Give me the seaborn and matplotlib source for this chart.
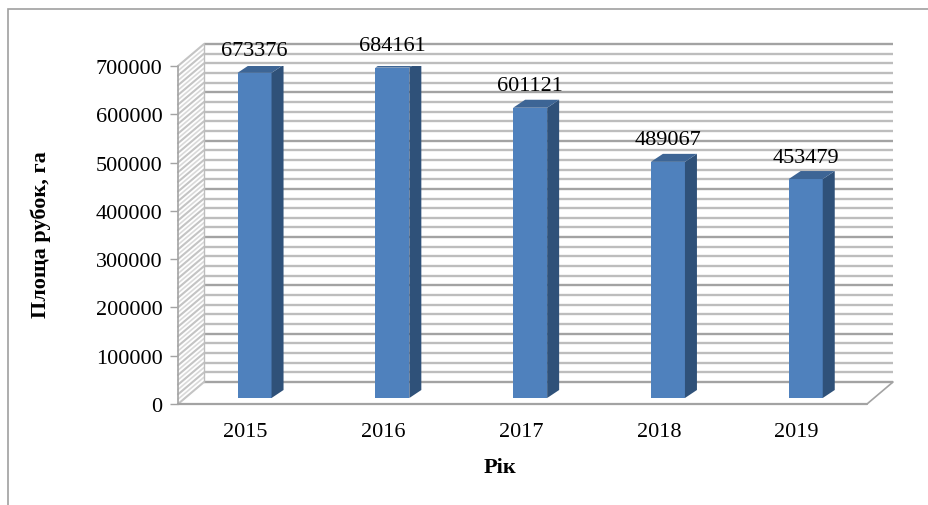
import matplotlib
matplotlib.use("Agg")
import matplotlib.pyplot as plt
from matplotlib.patches import Polygon, Rectangle
import numpy as np
import seaborn as sns

years = ["2015", "2016", "2017", "2018", "2019"]
area = [673376, 684161, 601121, 489067, 453479]
y_ticks = [0, 100000, 200000, 300000, 400000, 500000, 600000, 700000]

front = "#4F81BD"
side = "#2F5179"
top = "#3D6595"
grid = "#bdbdbd"
grid_major = "#a3a3a3"

sns.set_style("white")
plt.rcParams["font.family"] = ["Liberation Serif", "DejaVu Serif"]
plt.rcParams["text.color"] = "black"
plt.rcParams["xtick.labelcolor"] = "black"
plt.rcParams["ytick.labelcolor"] = "black"

fig = plt.figure(figsize=(9.29, 5.06), dpi=100)
ax = fig.add_axes([178 / 929, 101 / 506, 689 / 929, 338 / 506])

sns.barplot(x=years, y=area, ax=ax, color=front, width=0.247,
            saturation=1, zorder=3)

xlo, xhi = -0.49, 4.51
ax.set_xlim(xlo, xhi)
ax.set_ylim(0, 700000)


def px(dx, dy):
    # pixel offset -> data offset
    inv = ax.transData.inverted()
    o = ax.transData.transform((0, 0))
    p = inv.transform(o + np.array([dx, dy]))
    return p[0], p[1]


bdx, bdy = px(26, 22)   # depth of the back wall
sdx, sdy = px(9, 6)     # bar position inside depth
fdx, fdy = px(12, 8)    # bar thickness

# back wall grid + left wall hatch
for v in range(0, 700001, 20000):
    c = grid_major if v % 100000 == 0 else grid
    ax.plot([xlo + bdx, xhi + bdx], [v + bdy, v + bdy], color=c,
            lw=1.7, clip_on=False, zorder=1, solid_capstyle="butt")
    ax.plot([xlo, xlo + bdx], [v, v + bdy], color="#c4c4c4", lw=1.5,
            clip_on=False, zorder=1)
for v in range(10000, 700000, 20000):
    ax.plot([xlo, xlo + bdx], [v, v + bdy], color="#dadada", lw=1.2,
            clip_on=False, zorder=1)
ax.plot([xlo + bdx, xlo + bdx], [bdy, 700000 + bdy], color=grid, lw=1.0,
        clip_on=False, zorder=1)
# floor
ax.plot([xhi, xhi + bdx], [0, bdy], color=grid_major, lw=1.2, clip_on=False, zorder=1)
ax.plot([xlo, xhi], [0, 0], color=grid_major, lw=1.6, clip_on=False, zorder=2)
ax.plot([xlo, xlo], [0, 700000], color=grid_major, lw=1.2, clip_on=False, zorder=2)

# bars: shift into depth and add side/top faces
for p, val in zip(ax.patches, area):
    x0 = p.get_x() + sdx
    w = p.get_width()
    p.set_x(x0)
    p.set_y(sdy)
    p.set_edgecolor("none")
    x1 = x0 + w
    h = val + sdy
    ax.add_patch(Polygon([(x1, sdy), (x1 + fdx, sdy + fdy), (x1 + fdx, h + fdy), (x1, h)],
                         closed=True, facecolor=side, edgecolor="none", zorder=3))
    ax.add_patch(Polygon([(x0, h), (x1, h), (x1 + fdx, h + fdy), (x0 + fdx, h + fdy)],
                         closed=True, facecolor=top, edgecolor="none", zorder=3))
    ax.annotate(f"{val}", (x0 + w / 2, h), xytext=(0, 9), textcoords="offset points",
                ha="center", va="bottom", fontsize=16, color="black", zorder=5)

for s in ax.spines.values():
    s.set_visible(False)

ax.set_yticks(y_ticks)
ax.set_yticklabels([str(t) for t in y_ticks])
ax.tick_params(axis="y", left=True, length=6, width=1, color=grid_major, pad=5,
               labelsize=16, labelcolor="black")
ax.tick_params(axis="x", bottom=False, length=0, pad=13, labelsize=16,
               labelcolor="black")
ax.set_xlabel("")
ax.set_ylabel("")

fig.text(41 / 929, 1 - 235 / 506, "Площа рубок, га", rotation=90, ha="center",
         va="center", fontsize=16, fontweight="bold", color="black")
fig.text(500 / 929, 1 - 468 / 506, "Рік", ha="center", va="center",
         fontsize=16, fontweight="bold", color="black")

fig.patches.append(Rectangle((8 / 929, -0.1), 1.2, 1 - 10 / 506 + 0.1,
                             transform=fig.transFigure, fill=False,
                             edgecolor="#a0a0a0", lw=1.2))

fig.savefig("out.png", dpi=100)
